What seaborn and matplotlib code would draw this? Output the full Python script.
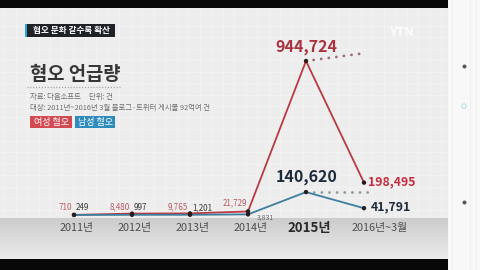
import matplotlib
matplotlib.use('Agg')
import matplotlib.pyplot as plt
import seaborn as sns
import pandas as pd
import numpy as np
from matplotlib.patches import Rectangle

# ---------------- data ----------------
years = ['2011년', '2012년', '2013년', '2014년', '2015년', '2016년~3월']
female = [710, 8480, 9765, 21729, 944724, 198495]
male = [249, 997, 1201, 3831, 140620, 41791]
series_names = ['여성 혐오', '남성 혐오']
title_tag = '혐오 문화 갈수록 확산'
title = '혐오 언급량'
source = '자료: 다음소프트     단위: 건'
target = '대상: 2011년~2016년 3월 블로그·트위터 게시물 92억여 건'

RED = '#b93a44'
BLUE = '#3d7e9e'

sns.set_theme(style='white')
plt.rcParams['font.family'] = ['Noto Sans CJK KR', 'DejaVu Sans']

W, H = 480, 270
fig = plt.figure(figsize=(4.8, 2.7), dpi=100)
ax = fig.add_axes([0, 0, 1, 1])
ax.set_axis_off()

# scale layout: category spacing and value scale in pixels
X0, DX = 74, 58
Y0_FROM_BOTTOM = 55
SCALE = 154 / 944724
xlim = (-X0 / DX, (W - X0) / DX)
ylim = (-Y0_FROM_BOTTOM / SCALE, (H - Y0_FROM_BOTTOM) / SCALE)


def P(xp, yp):
    """pixel (from top-left) -> axes fraction"""
    return xp / W, 1 - yp / H


def rect(x1, y1, x2, y2, color, z=0, **kw):
    (a, b) = P(x1, y2)
    ax.add_patch(Rectangle((a, b), (x2 - x1) / W, (y2 - y1) / H, transform=ax.transAxes,
                           facecolor=color, edgecolor='none', zorder=z, **kw))


# ---------------- background ----------------
rect(0, 0, 480, 270, '#ededed', z=0)
# grid
for gx in np.arange(4, 448, 11.5):
    ax.plot([gx / W, gx / W], [1 - 8 / H, 1 - 218 / H], transform=ax.transAxes,
            color='#f4f4f4', lw=0.6, zorder=0.5)
for gy in np.arange(14, 218, 11.5):
    ax.plot([0, 448 / W], [1 - gy / H, 1 - gy / H], transform=ax.transAxes,
            color='#f4f4f4', lw=0.6, zorder=0.5)
# axis band gradient
n = 40
for i in range(n):
    y1 = 218 + i * 40 / n
    c = 0.80 + 0.12 * i / n
    rect(0, y1, 448, y1 + 40 / n + 0.3, (c, c, c), z=0.6)
# right strip
rect(448, 0, 480, 270, '#f8f8f8', z=1)
for vx in [452, 470, 476]:
    ax.plot([vx / W, vx / W], [0, 1], transform=ax.transAxes, color='#efefef', lw=0.6, zorder=1.1)
for (dy, fc, ec) in [(66, '#555555', '#555555'), (106, 'none', '#a9d3e0'), (202, '#555555', '#555555')]:
    ax.scatter([464 / W], [1 - dy / H], transform=ax.transAxes, s=5 if fc != 'none' else 10,
               facecolor=fc, edgecolor=ec, linewidth=0.6, zorder=1.2)
# black bars
rect(0, 0, 448, 8, '#080808', z=1.3)
rect(0, 259, 448, 270, '#080808', z=1.3)

# ---------------- header ----------------
rect(25, 24, 115, 37, '#1f2327', z=2)
rect(25, 24, 27, 37, '#2aa6d8', z=2.1)
ax.text(*P(71, 30.5), title_tag, transform=ax.transAxes, ha='center', va='center',
        color='white', fontsize=6.2, fontweight='bold', zorder=3)
ax.text(*P(30, 75), title, transform=ax.transAxes, ha='left', va='center',
        color='#363636', fontsize=13.5, fontweight='bold', zorder=3)
ax.plot([27 / W, 120 / W], [1 - 87 / H, 1 - 87 / H], transform=ax.transAxes,
        color='#9a9a9a', lw=0.9, ls=(0, (0.8, 1.5)), zorder=3)
ax.text(*P(30, 97), source, transform=ax.transAxes, ha='left', va='center',
        color='#6c6c6c', fontsize=5.3, zorder=3)
ax.text(*P(30, 108), target, transform=ax.transAxes, ha='left', va='center',
        color='#6c6c6c', fontsize=5.3, zorder=3)
rect(30, 116.5, 72, 128.5, '#d24a52', z=2)
rect(75, 116.5, 115, 128.5, '#2f8cbd', z=2)
ax.text(*P(51, 122.5), series_names[0], transform=ax.transAxes, ha='center', va='center',
        color='white', fontsize=6.5, zorder=3)
ax.text(*P(95, 122.5), series_names[1], transform=ax.transAxes, ha='center', va='center',
        color='white', fontsize=6.5, zorder=3)
ax.text(*P(401, 32), 'YTN', transform=ax.transAxes, ha='center', va='center',
        color='white', fontsize=9, fontweight='bold', alpha=0.8, zorder=3)

# ---------------- lines ----------------
pos = list(range(len(years)))
df = pd.DataFrame({
    'pos': pos * 2,
    'value': female + male,
    'series': [series_names[0]] * len(pos) + [series_names[1]] * len(pos),
})
sns.lineplot(data=df, x='pos', y='value', hue='series',
             palette={series_names[0]: RED, series_names[1]: BLUE},
             linewidth=1.3, legend=False, ax=ax, zorder=5)
sns.scatterplot(data=df, x='pos', y='value', color='#2b1b1e', s=10, edgecolor='none',
                legend=False, ax=ax, zorder=6)
ax.set_axis_off()

# dotted guide lines from the 2015 peaks
peak = 4
ax.plot([peak, peak + 1.03], [female[peak], female[peak] + 8 / SCALE],
        color='#a06a72', lw=2.0, ls=(0, (0.05, 2.7)), dash_capstyle='round', zorder=4)
ax.plot([peak, peak + 1.07], [male[peak], male[peak]],
        color='#8c9a9c', lw=2.0, ls=(0, (0.05, 2.7)), dash_capstyle='round', zorder=4)

# value labels
def lab(x, y, s, dx, dy, ha, color, size, weight='normal'):
    ax.annotate(s, xy=(x, y), xytext=(dx, dy), textcoords='offset pixels', ha=ha, va='center',
                color=color, fontsize=size, fontweight=weight, zorder=7)

for i in range(3):
    lab(i, female[i], f'{female[i]:,}', -2, 7, 'right', '#b85a62', 5.8)
    lab(i, male[i], f'{male[i]:,}', 2, 7, 'left', '#3a3a3a', 5.8)
lab(3, female[3], f'{female[3]:,}', -1, 9, 'right', '#b85a62', 5.8)
lab(3, male[3], f'{male[3]:,}', 9, -3, 'left', '#666666', 5.0)
lab(4, female[4], f'{female[4]:,}', 0, 14, 'center', '#a8323e', 11.5, 'bold')
lab(4, male[4], f'{male[4]:,}', 1, 15, 'center', '#1d2b3a', 11.5, 'bold')
lab(5, female[5], f'{female[5]:,}', 4, 1, 'left', '#c42e3c', 8.8, 'bold')
lab(5, male[5], f'{male[5]:,}', 7, 1, 'left', '#1d2b3a', 8.8, 'bold')

# x tick labels
for i, yl in enumerate(years):
    bold = (i == peak)
    extra = 16 if i == len(years) - 1 else 3
    ax.annotate(yl, xy=(i, 0), xytext=(extra, -13), textcoords='offset pixels',
                ha='center', va='center', color='#2a2a2a' if bold else '#4d4d4d',
                fontsize=9.5 if bold else 7.8, fontweight='bold' if bold else 'normal', zorder=7)

ax.set_xlim(*xlim)
ax.set_ylim(*ylim)
fig.savefig('out.png', dpi=100)
